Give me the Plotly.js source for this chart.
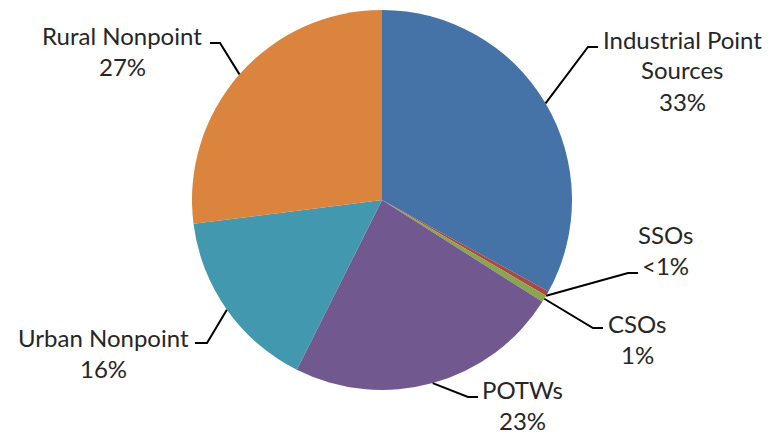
<!DOCTYPE html>
<html><head><meta charset="utf-8">
<script src="https://cdn.plot.ly/plotly-3.0.1.min.js"></script>
<style>html,body{margin:0;padding:0;background:#fff;}#chart{width:772px;height:434px;}</style>
</head><body><div id="chart"></div>
<script>
// Data
var categories = ["Industrial Point Sources", "SSOs", "CSOs", "POTWs", "Urban Nonpoint", "Rural Nonpoint"];
var values = [33, 0.4, 0.6, 23.4, 15.6, 27];
var pctLabels = ["33%", "<1%", "1%", "23%", "16%", "27%"];
var nameLines = [["Industrial Point", "Sources"], ["SSOs"], ["CSOs"], ["POTWs"], ["Urban Nonpoint"], ["Rural Nonpoint"]];
var colors = ["#4572A7", "#AA4643", "#89A54E", "#71588F", "#4198AF", "#DB843D"];

// Layout geometry (pixels)
var W = 772, H = 434;
var cx = 382, cy = 200, R = 190;
var labelPos = [
  {x: 682, y: 39, ex: 588, ey: 47, tx: 598, ty: 47},
  {x: 665, y: 234, ex: 628, ey: 273, tx: 638, ty: 273},
  {x: 637, y: 323, ex: 593, ey: 328, tx: 603, ty: 328},
  {x: 522, y: 389, ex: 468, ey: 397, tx: 478, ty: 397},
  {x: 103, y: 337, ex: 207, ey: 343, tx: 195, ty: 343},
  {x: 122, y: 35, ex: 220, ey: 43, tx: 210, ty: 43}
];
var lineGap = 31;
function px(x){return x / W;}
function py(y){return 1 - y / H;}

var total = values.reduce(function(a,b){return a+b;}, 0);
var cum = 0;
var shapes = [], annotations = [];
var font = {family: "Lato, 'Open Sans', sans-serif", size: 24, color: "#262626"};
values.forEach(function(v, i){
  var frac;
  if (i === 1) frac = (cum + v) / total;
  else frac = (cum + v/2) / total;
  cum += v;
  var ang = frac * 2 * Math.PI;
  var sx = cx + R * Math.sin(ang), sy = cy - R * Math.cos(ang);
  var L = labelPos[i];
  var path = "M" + px(sx) + "," + py(sy) + " L" + px(L.ex) + "," + py(L.ey) + " L" + px(L.tx) + "," + py(L.ty);
  shapes.push({type: "path", xref: "paper", yref: "paper", path: path, line: {color: "#000", width: 2}});
  var lines = nameLines[i].concat([pctLabels[i]]);
  lines.forEach(function(t, k){
    annotations.push({xref: "paper", yref: "paper", x: px(L.x), y: py(L.y + k*lineGap),
      xanchor: "center", yanchor: "middle", text: t, showarrow: false, font: font});
  });
});

var trace = {
  type: "pie",
  labels: categories,
  values: values,
  sort: false,
  direction: "clockwise",
  rotation: 0,
  textinfo: "none",
  hoverinfo: "label+percent",
  marker: {colors: colors, line: {color: "#ffffff", width: 0}},
  domain: {x: [(cx - R) / W, (cx + R) / W], y: [1 - (cy + R) / H, 1 - (cy - R) / H]},
  showlegend: false
};
var layout = {
  width: W, height: H,
  margin: {l: 0, r: 0, t: 0, b: 0},
  paper_bgcolor: "#ffffff",
  showlegend: false,
  shapes: shapes,
  annotations: annotations
};
Plotly.newPlot("chart", [trace], layout, {displayModeBar: false, staticPlot: true});
</script>
</body></html>
